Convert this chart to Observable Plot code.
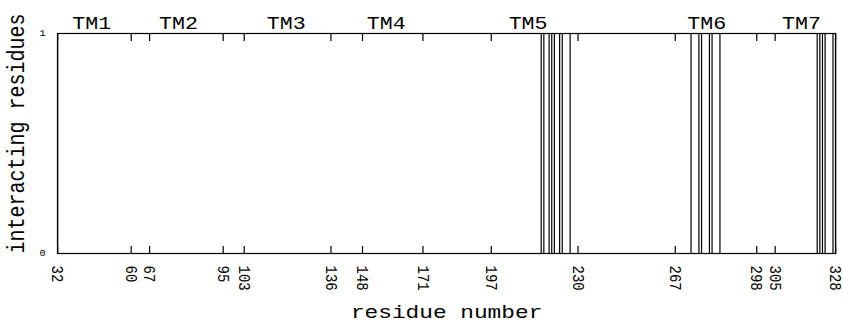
<!DOCTYPE html>
<html>
<head>
<meta charset="utf-8">
<script src="https://cdn.jsdelivr.net/npm/d3@7"></script>
<script src="https://cdn.jsdelivr.net/npm/@observablehq/plot@0.6"></script>
<style>
  body { margin: 0; background: #fff; }
  #chart svg { display: block; }
</style>
</head>
<body>
<div id="chart"></div>
<script>
// Residue numbers marked on the x axis (helix boundaries)
const tickResidues = [32, 60, 67, 95, 103, 136, 148, 171, 197, 230, 267, 298, 305, 328];

// Residues flagged as interacting (value 1)
const interactingResidues = [
  216, 217, 219, 220, 221, 223, 224, 227,
  273, 276, 277, 280, 281, 284,
  321, 322, 323, 324, 327
];

// Transmembrane helix names and where their labels sit along the sequence
const helixNames = ["TM1", "TM2", "TM3", "TM4", "TM5", "TM6", "TM7"];
const helixCenters = [45, 78, 119, 157, 211, 279, 315];

const yTicks = [0, 1];

const fullWidth = 843;
const fullHeight = 324;
// Drawn on a narrower canvas, then widened: gives the wide typewriter look
const stretch = 1.2;
const W = fullWidth / stretch;
const font = "'Liberation Mono', 'Courier New', monospace";

const helices = helixNames.map((name, i) => ({name, x: helixCenters[i]}));

const chart = Plot.plot({
  width: W,
  height: fullHeight,
  marginLeft: 57 / stretch,
  marginRight: 8 / stretch,
  marginTop: 33,
  marginBottom: 71,
  style: {fontFamily: font, background: "white", color: "black", overflow: "visible"},
  x: {domain: [32, 328]},
  y: {domain: [0, 1]},
  marks: [
    Plot.ruleX(interactingResidues, {x: d => d, stroke: "black", strokeWidth: 1}),
    // inward ticks, bottom and top
    Plot.axisX({anchor: "bottom", ticks: tickResidues, tickSize: -7, fill: "none", label: null}),
    Plot.axisX({anchor: "top", ticks: tickResidues, tickSize: -7, fill: "none", label: null}),
    // rotated residue labels
    Plot.axisX({
      anchor: "bottom", ticks: tickResidues, tickSize: 0, tickPadding: 12,
      tickRotate: 90, fontSize: 14, tickFormat: d3.format("d"), label: null
    }),
    Plot.axisY({ticks: yTicks, tickSize: 0, tickPadding: 10, fontSize: 8.5, tickFormat: d3.format("d"), label: null}),
    Plot.frame({stroke: "black", strokeWidth: 1.2}),
    Plot.text(helices, {x: "x", text: "name", frameAnchor: "top", dy: -5, lineAnchor: "bottom", fontSize: 18}),
    Plot.text(["residue number"], {text: d => d, frameAnchor: "bottom", dy: 64, lineAnchor: "bottom", fontSize: 19}),
    Plot.text(["interacting residues"], {
      text: d => d, frameAnchor: "left", textAnchor: "middle", rotate: -90,
      dx: 23 / stretch - 57 / stretch, dy: -10,
      lineAnchor: "bottom", fontSize: 20
    })
  ]
});

// widen horizontally to the full page width
chart.setAttribute("viewBox", `0 0 ${W} ${fullHeight}`);
chart.setAttribute("width", fullWidth);
chart.setAttribute("height", fullHeight);
chart.setAttribute("preserveAspectRatio", "none");
chart.style.width = fullWidth + "px";
chart.style.height = fullHeight + "px";
chart.style.maxWidth = "none";

document.getElementById("chart").appendChild(chart);
</script>
</body>
</html>
